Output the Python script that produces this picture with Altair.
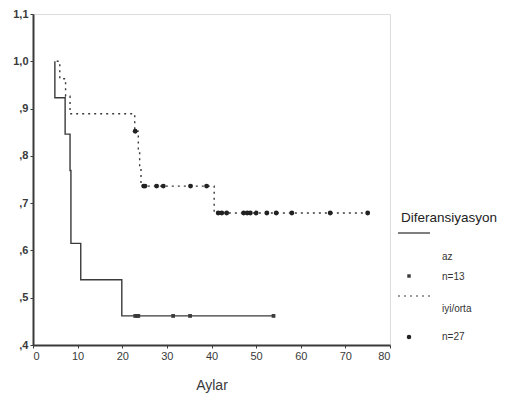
import altair as alt
import pandas as pd

# Kaplan-Meier step points (months, survival)
az_t = [4.9, 4.9, 7.2, 8.3, 8.5, 10.7, 19.9, 53.9]
az_s = [1.0, 0.923, 0.846, 0.769, 0.615, 0.538, 0.4615, 0.4615]
iyi_t = [5.3, 6.0, 7.3, 8.3, 22.8, 23.6, 23.9, 24.2, 40.6, 75.0]
iyi_s = [1.0, 0.963, 0.926, 0.889, 0.852, 0.813, 0.775, 0.736, 0.679, 0.679]

# censored observations
az_cens_t = [22.9, 23.3, 23.6, 31.4, 35.2, 53.9]
az_cens_s = [0.4615] * 6
iyi_cens_t = [22.9, 24.8, 25.1, 27.7, 29.2, 35.3, 38.9,
              41.5, 42.3, 43.4, 47.2, 48.0, 48.7, 50.0, 52.4, 54.5, 58.0, 66.6, 75.0]
iyi_cens_s = [0.852] + [0.736] * 6 + [0.679] * 12

az_df = pd.DataFrame({"t": az_t, "s": az_s, "o": range(len(az_t))})
iyi_df = pd.DataFrame({"t": iyi_t, "s": iyi_s, "o": range(len(iyi_t))})
azc = pd.DataFrame({"t": az_cens_t, "s": az_cens_s})
iyic = pd.DataFrame({"t": iyi_cens_t, "s": iyi_cens_s})

C = "#3a3a3a"
xs = alt.Scale(domain=[0, 80], nice=False)
ys = alt.Scale(domain=[0.4, 1.1], nice=False, zero=False)

xax = alt.Axis(values=list(range(0, 81, 10)), grid=False, title="Aylar", titleFontSize=14,
               titleFontWeight="normal", titlePadding=17, labelFontSize=11, labelColor=C,
               titleColor=C, tickSize=3, tickColor=C, domainColor=C, domainWidth=2,
               labelFont="Liberation Sans", titleFont="Liberation Sans")
yax = alt.Axis(values=[0.4, 0.5, 0.6, 0.7, 0.8, 0.9, 1.0, 1.1], grid=False, title=None,
               labelFontSize=11, labelColor=C, tickSize=3, tickColor=C, domainColor=C,
               domainWidth=2, labelFont="Liberation Sans", labelFontWeight="bold",
               labelExpr="datum.value >= 1 ? replace(format(datum.value,'.1f'),'.',',') : replace(format(datum.value,'.1f'),'0.',',')")

X = alt.X("t:Q", scale=xs, axis=xax)
Y = alt.Y("s:Q", scale=ys, axis=yax)

l_az = alt.Chart(az_df).mark_line(interpolate="step-after", color=C, strokeWidth=1.4).encode(
    x=X, y=Y, order="o:Q")
l_iyi = alt.Chart(iyi_df).mark_line(interpolate="step-after", color=C, strokeWidth=1.4,
                                    strokeDash=[2, 4]).encode(x=X, y=Y, order="o:Q")
p_az = alt.Chart(azc).mark_point(shape="square", filled=True, size=14, color=C, opacity=1).encode(
    x="t:Q", y="s:Q")
p_iyi = alt.Chart(iyic).mark_point(shape="circle", filled=True, size=24, color="#222", opacity=1).encode(
    x="t:Q", y="s:Q")

# legend (drawn beside the plot)
leg_df = pd.DataFrame({"k": [0]})
base = alt.Chart(leg_df)
title = base.mark_text(text="Diferansiyasyon", align="left", baseline="middle", fontSize=13.5,
                       font="Liberation Sans", color="#222").encode(x=alt.value(368), y=alt.value(204))
r1 = base.mark_rule(color=C, strokeWidth=1.3).encode(x=alt.value(365), x2=alt.value(397), y=alt.value(219))
t1 = base.mark_text(text="az", align="left", baseline="middle", fontSize=10, font="Liberation Sans",
                    color="#333").encode(x=alt.value(409), y=alt.value(243))
m1 = base.mark_point(shape="square", filled=True, size=12, color=C, opacity=1).encode(
    x=alt.value(376), y=alt.value(262))
t2 = base.mark_text(text="n=13", align="left", baseline="middle", fontSize=10, font="Liberation Sans",
                    color="#333").encode(x=alt.value(409), y=alt.value(263))
r2 = base.mark_rule(color=C, strokeWidth=1.2, strokeDash=[2, 4]).encode(
    x=alt.value(365), x2=alt.value(397), y=alt.value(282))
t3 = base.mark_text(text="iyi/orta", align="left", baseline="middle", fontSize=10, font="Liberation Sans",
                    color="#333").encode(x=alt.value(409), y=alt.value(295))
m2 = base.mark_point(shape="circle", filled=True, size=20, color="#222", opacity=1).encode(
    x=alt.value(376), y=alt.value(323))
t4 = base.mark_text(text="n=27", align="left", baseline="middle", fontSize=10, font="Liberation Sans",
                    color="#333").encode(x=alt.value(409), y=alt.value(323))

chart = alt.layer(l_az, l_iyi, p_az, p_iyi, title, r1, t1, m1, t2, r2, t3, m2, t4).properties(
    width=357, height=331,
    autosize=alt.AutoSizeParams(type="none"),
    padding={"left": 25, "top": 6, "right": 118, "bottom": 55},
).configure_view(stroke=C, strokeWidth=2).configure(background="white")

chart.save("out.html", embed_options={"renderer": "svg", "actions": False})
